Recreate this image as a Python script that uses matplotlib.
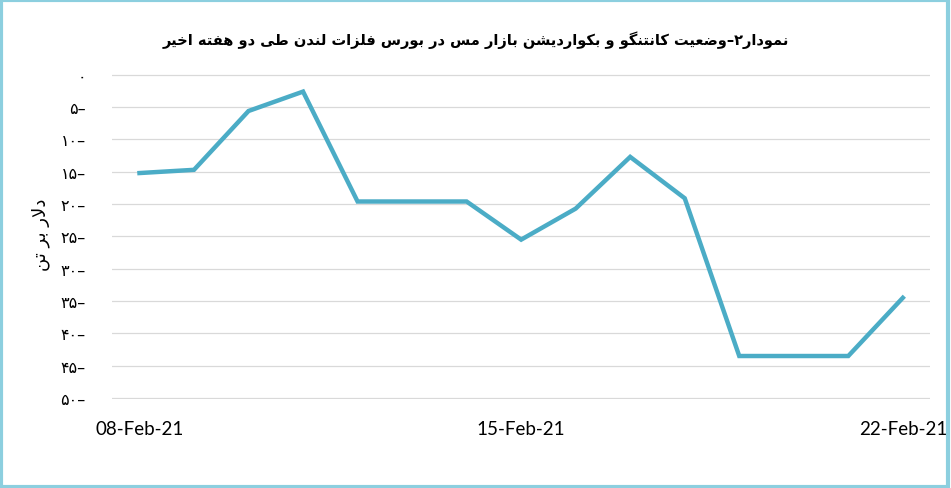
import matplotlib
matplotlib.use("Agg")
import matplotlib.pyplot as plt
from matplotlib.patches import Rectangle

# داده‌ها (دلار بر تن) - یک نقطه برای هر روز
dates = ["08-Feb-21", "09-Feb-21", "10-Feb-21", "11-Feb-21", "12-Feb-21",
         "13-Feb-21", "14-Feb-21", "15-Feb-21", "16-Feb-21", "17-Feb-21",
         "18-Feb-21", "19-Feb-21", "20-Feb-21", "21-Feb-21", "22-Feb-21"]
values = [-15.2, -14.7, -5.6, -2.6, -19.6, -19.6, -19.6, -25.5,
          -20.7, -12.7, -19.1, -43.5, -43.5, -43.5, -34.5]
shown_dates = ["08-Feb-21", "15-Feb-21", "22-Feb-21"]
y_ticks = [0, -5, -10, -15, -20, -25, -30, -35, -40, -45, -50]

title = "نمودار۲–وضعیت کانتنگو و بکواردیشن بازار مس در بورس فلزات لندن طی دو هفته اخیر"
ylabel = "دلار بر تن"

# شکل‌دهی ساده حروف عربی/فارسی (matplotlib خودش انجام نمی‌دهد)
FORMS = {
    "ا": (0xFE8D, 0xFE8E), "د": (0xFEA9, 0xFEAA), "ر": (0xFEAD, 0xFEAE),
    "ز": (0xFEAF, 0xFEB0), "و": (0xFEED, 0xFEEE),
    "ب": (0xFE8F, 0xFE90, 0xFE91, 0xFE92), "ت": (0xFE95, 0xFE96, 0xFE97, 0xFE98),
    "خ": (0xFEA5, 0xFEA6, 0xFEA7, 0xFEA8), "س": (0xFEB1, 0xFEB2, 0xFEB3, 0xFEB4),
    "ش": (0xFEB5, 0xFEB6, 0xFEB7, 0xFEB8), "ض": (0xFEBD, 0xFEBE, 0xFEBF, 0xFEC0),
    "ط": (0xFEC1, 0xFEC2, 0xFEC3, 0xFEC4), "ع": (0xFEC9, 0xFECA, 0xFECB, 0xFECC),
    "ف": (0xFED1, 0xFED2, 0xFED3, 0xFED4), "ل": (0xFEDD, 0xFEDE, 0xFEDF, 0xFEE0),
    "م": (0xFEE1, 0xFEE2, 0xFEE3, 0xFEE4), "ن": (0xFEE5, 0xFEE6, 0xFEE7, 0xFEE8),
    "ه": (0xFEE9, 0xFEEA, 0xFEEB, 0xFEEC), "ک": (0xFB8E, 0xFB8F, 0xFB90, 0xFB91),
    "گ": (0xFB92, 0xFB93, 0xFB94, 0xFB95), "ی": (0xFBFC, 0xFBFD, 0xFBFE, 0xFBFF),
}


def shape_rtl(text):
    chars = list(text)
    out = []
    i = 0
    while i < len(chars):
        c = chars[i]
        prev = chars[i - 1] if i > 0 else ""
        joins_prev = prev in FORMS and len(FORMS[prev]) == 4
        # لا
        if c == "ل" and i + 1 < len(chars) and chars[i + 1] == "ا":
            out.append(chr(0xFEFC if joins_prev else 0xFEFB))
            i += 2
            continue
        if c not in FORMS:
            out.append(c)
            i += 1
            continue
        f = FORMS[c]
        nxt = chars[i + 1] if i + 1 < len(chars) else ""
        joins_next = len(f) == 4 and nxt in FORMS
        if joins_prev and joins_next:
            out.append(chr(f[3]))
        elif joins_next:
            out.append(chr(f[2]))
        elif joins_prev:
            out.append(chr(f[1]))
        else:
            out.append(chr(f[0]))
        i += 1
    return "".join(reversed(out))


def fa_label(v):
    digits = str(abs(v)).translate(str.maketrans("0123456789", "۰۱۲۳۴۵۶۷۸۹"))
    return digits + "–" if v != 0 else digits


fig = plt.figure(figsize=(9.51, 4.89), dpi=100)
ax = fig.add_axes([0.118, 0.182, 0.860, 0.665])

x = list(range(len(dates)))
ax.plot(x, values, color="#4BACC6", linewidth=3.2, solid_joinstyle="miter")

ax.set_xlim(-0.5, len(dates) - 0.5)
ax.set_ylim(-50.15, 0.15)
ax.set_yticks(y_ticks)
ax.set_yticklabels([fa_label(v) for v in y_ticks], fontsize=11.5, family="DejaVu Sans")
ax.set_xticks([dates.index(d) for d in shown_dates])
ax.set_xticklabels(shown_dates, fontsize=13.5, family="Lato")
ax.tick_params(axis="both", length=0)
ax.tick_params(axis="x", pad=15)
ax.tick_params(axis="y", pad=19)
ax.grid(axis="y", color="#D9D9D9", linewidth=0.9)
ax.set_axisbelow(True)
for s in ax.spines.values():
    s.set_visible(False)

fig.text(0.5, 0.918, shape_rtl(title), ha="center", va="center",
         fontsize=10.5, fontweight="bold", family="DejaVu Sans")
fig.text(0.043, 0.52, shape_rtl(ylabel), ha="center", va="center",
         rotation=90, fontsize=13, family="DejaVu Sans")

fig.patches.append(Rectangle((0.0015, 0.003), 0.995, 0.994, transform=fig.transFigure,
                             fill=False, edgecolor="#8CCFDF", linewidth=3))

fig.savefig("out.png", dpi=100)
